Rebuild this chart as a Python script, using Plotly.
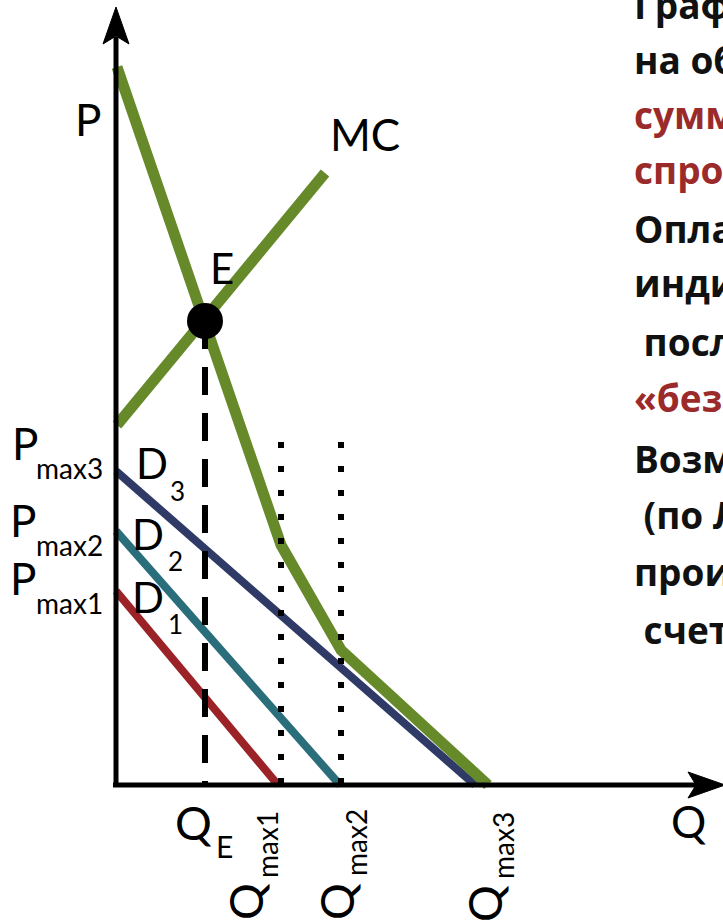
import plotly.graph_objects as go

# ---- data (economic units; origin at the axes' corner) ----
q_sum = [1, 89, 165, 225, 372]        # aggregate (vertical sum) demand, Q
p_sum = [718, 464, 240, 135, 0]       # aggregate demand, P
q_mc = [1, 209]
p_mc = [360, 612]
q_d3 = [0, 359]; p_d3 = [314, 0]
q_d2 = [0, 224]; p_d2 = [254, 0]
q_d1 = [0, 162]; p_d1 = [194, 0]
q_e, p_e = 89, 464
q_dotted = [165, 225]
p_dotted_top = 343
axis_q_end, axis_p_end = 609, 778

text_lines = [
    ("График совокупного спроса", "#111111"),
    ("на общественное благо –", "#111111"),
    ("суммирование кривых", "#9B2B2B"),
    ("спроса по вертикали.", "#9B2B2B"),
    ("Оплата по индивидуальной", "#111111"),
    ("индивидуальным ценам", "#111111"),
    (" последовательно", "#111111"),
    ("«безбилетник»", "#9B2B2B"),
    ("Возможность", "#111111"),
    (" (по Линдалю)", "#111111"),
    ("производства за", "#111111"),
    (" счет налогов", "#111111"),
]
text_line_y = [8, 63, 118, 173, 232, 286, 345, 401, 462, 518, 575, 633]  # x-height centres (px)

GREEN = "#668A2A"
NAVY = "#2F3B66"
TEAL = "#2A6E7C"
RED = "#9B2226"

OX, OY = 116, 785  # pixel of origin
W, H = 723, 920

fig = go.Figure()

def line(x, y, color, width, dash=None):
    fig.add_trace(go.Scatter(x=x, y=y, mode="lines",
                             line=dict(color=color, width=width, dash=dash),
                             hoverinfo="skip", showlegend=False))

line(q_d1, p_d1, RED, 8)
line(q_d2, p_d2, TEAL, 8)
line(q_d3, p_d3, NAVY, 8)
line(q_sum, p_sum, GREEN, 11)
line(q_mc, p_mc, GREEN, 11)
line([q_e, q_e], [p_e, 0], "black", 6, "28px,18px")
for q in q_dotted:
    line([q, q], [p_dotted_top, 0], "black", 6, "6px,18px")

# axes
line([0, 0], [-2, axis_p_end - 30], "black", 5)
line([-3, axis_q_end - 28], [0, 0], "black", 5)
# arrow heads
hl, hw, notch = 37, 13, 8
fig.add_trace(go.Scatter(x=[0, -hw, 0, hw, 0],
                         y=[axis_p_end, axis_p_end - hl, axis_p_end - hl + notch, axis_p_end - hl, axis_p_end],
                         mode="lines", fill="toself", fillcolor="black",
                         line=dict(color="black", width=1), hoverinfo="skip", showlegend=False))
fig.add_trace(go.Scatter(x=[axis_q_end, axis_q_end - hl, axis_q_end - hl + notch, axis_q_end - hl, axis_q_end],
                         y=[0, hw, 0, -hw, 0],
                         mode="lines", fill="toself", fillcolor="black",
                         line=dict(color="black", width=1), hoverinfo="skip", showlegend=False))

fig.add_trace(go.Scatter(x=[q_e], y=[p_e], mode="markers",
                         marker=dict(color="black", size=36, line=dict(width=0)),
                         hoverinfo="skip", showlegend=False))

LF = "Lato, 'Open Sans', sans-serif"

def lab(text, xp, yp, size, angle=0):
    fig.add_annotation(x=xp - OX, y=OY - yp, text=text, showarrow=False,
                       xanchor="center", yanchor="middle", textangle=angle,
                       font=dict(family=LF, size=size, color="black"))

lab("P", 88, 119, 44)
lab("MC", 365, 134, 44)
lab("E", 222, 268, 42)
lab("P", 25, 443, 44); lab("max3", 69, 468, 28)
lab("P", 23, 520, 44); lab("max2", 69, 545, 28)
lab("P", 23, 578, 44); lab("max1", 69, 603, 28)
lab("D", 152, 463, 42); lab("3", 177, 491, 26)
lab("D", 148, 534, 42); lab("2", 175, 561, 26)
lab("D", 148, 597, 42); lab("1", 175, 624, 26)
lab("Q", 193, 822, 46); lab("E", 224, 846, 30)
lab("Q", 245, 902, 46, -90); lab("max1", 267, 845, 28, -90)
lab("Q", 336, 902, 46, -90); lab("max2", 356, 843, 28, -90)
lab("Q", 484, 904, 46, -90); lab("max3", 503, 846, 28, -90)
lab("Q", 688, 821, 44)

for (t, c), yc in zip(text_lines, text_line_y):
    fig.add_annotation(x=632 - OX, y=OY - (yc - 4), text="<b>" + t + "</b>",
                       showarrow=False, xanchor="left", yanchor="middle",
                       font=dict(family="'Open Sans', sans-serif", size=37, color=c))

fig.update_layout(
    width=W, height=H, margin=dict(l=0, r=0, t=0, b=0),
    paper_bgcolor="white", plot_bgcolor="white",
    xaxis=dict(range=[-OX, W - OX], visible=False, fixedrange=True),
    yaxis=dict(range=[OY - H, OY], visible=False, fixedrange=True),
    showlegend=False,
)
fig.write_html("out.html", config={"displayModeBar": False, "staticPlot": True},
               post_script="document.body.style.margin='0';document.body.style.overflow='hidden';")
